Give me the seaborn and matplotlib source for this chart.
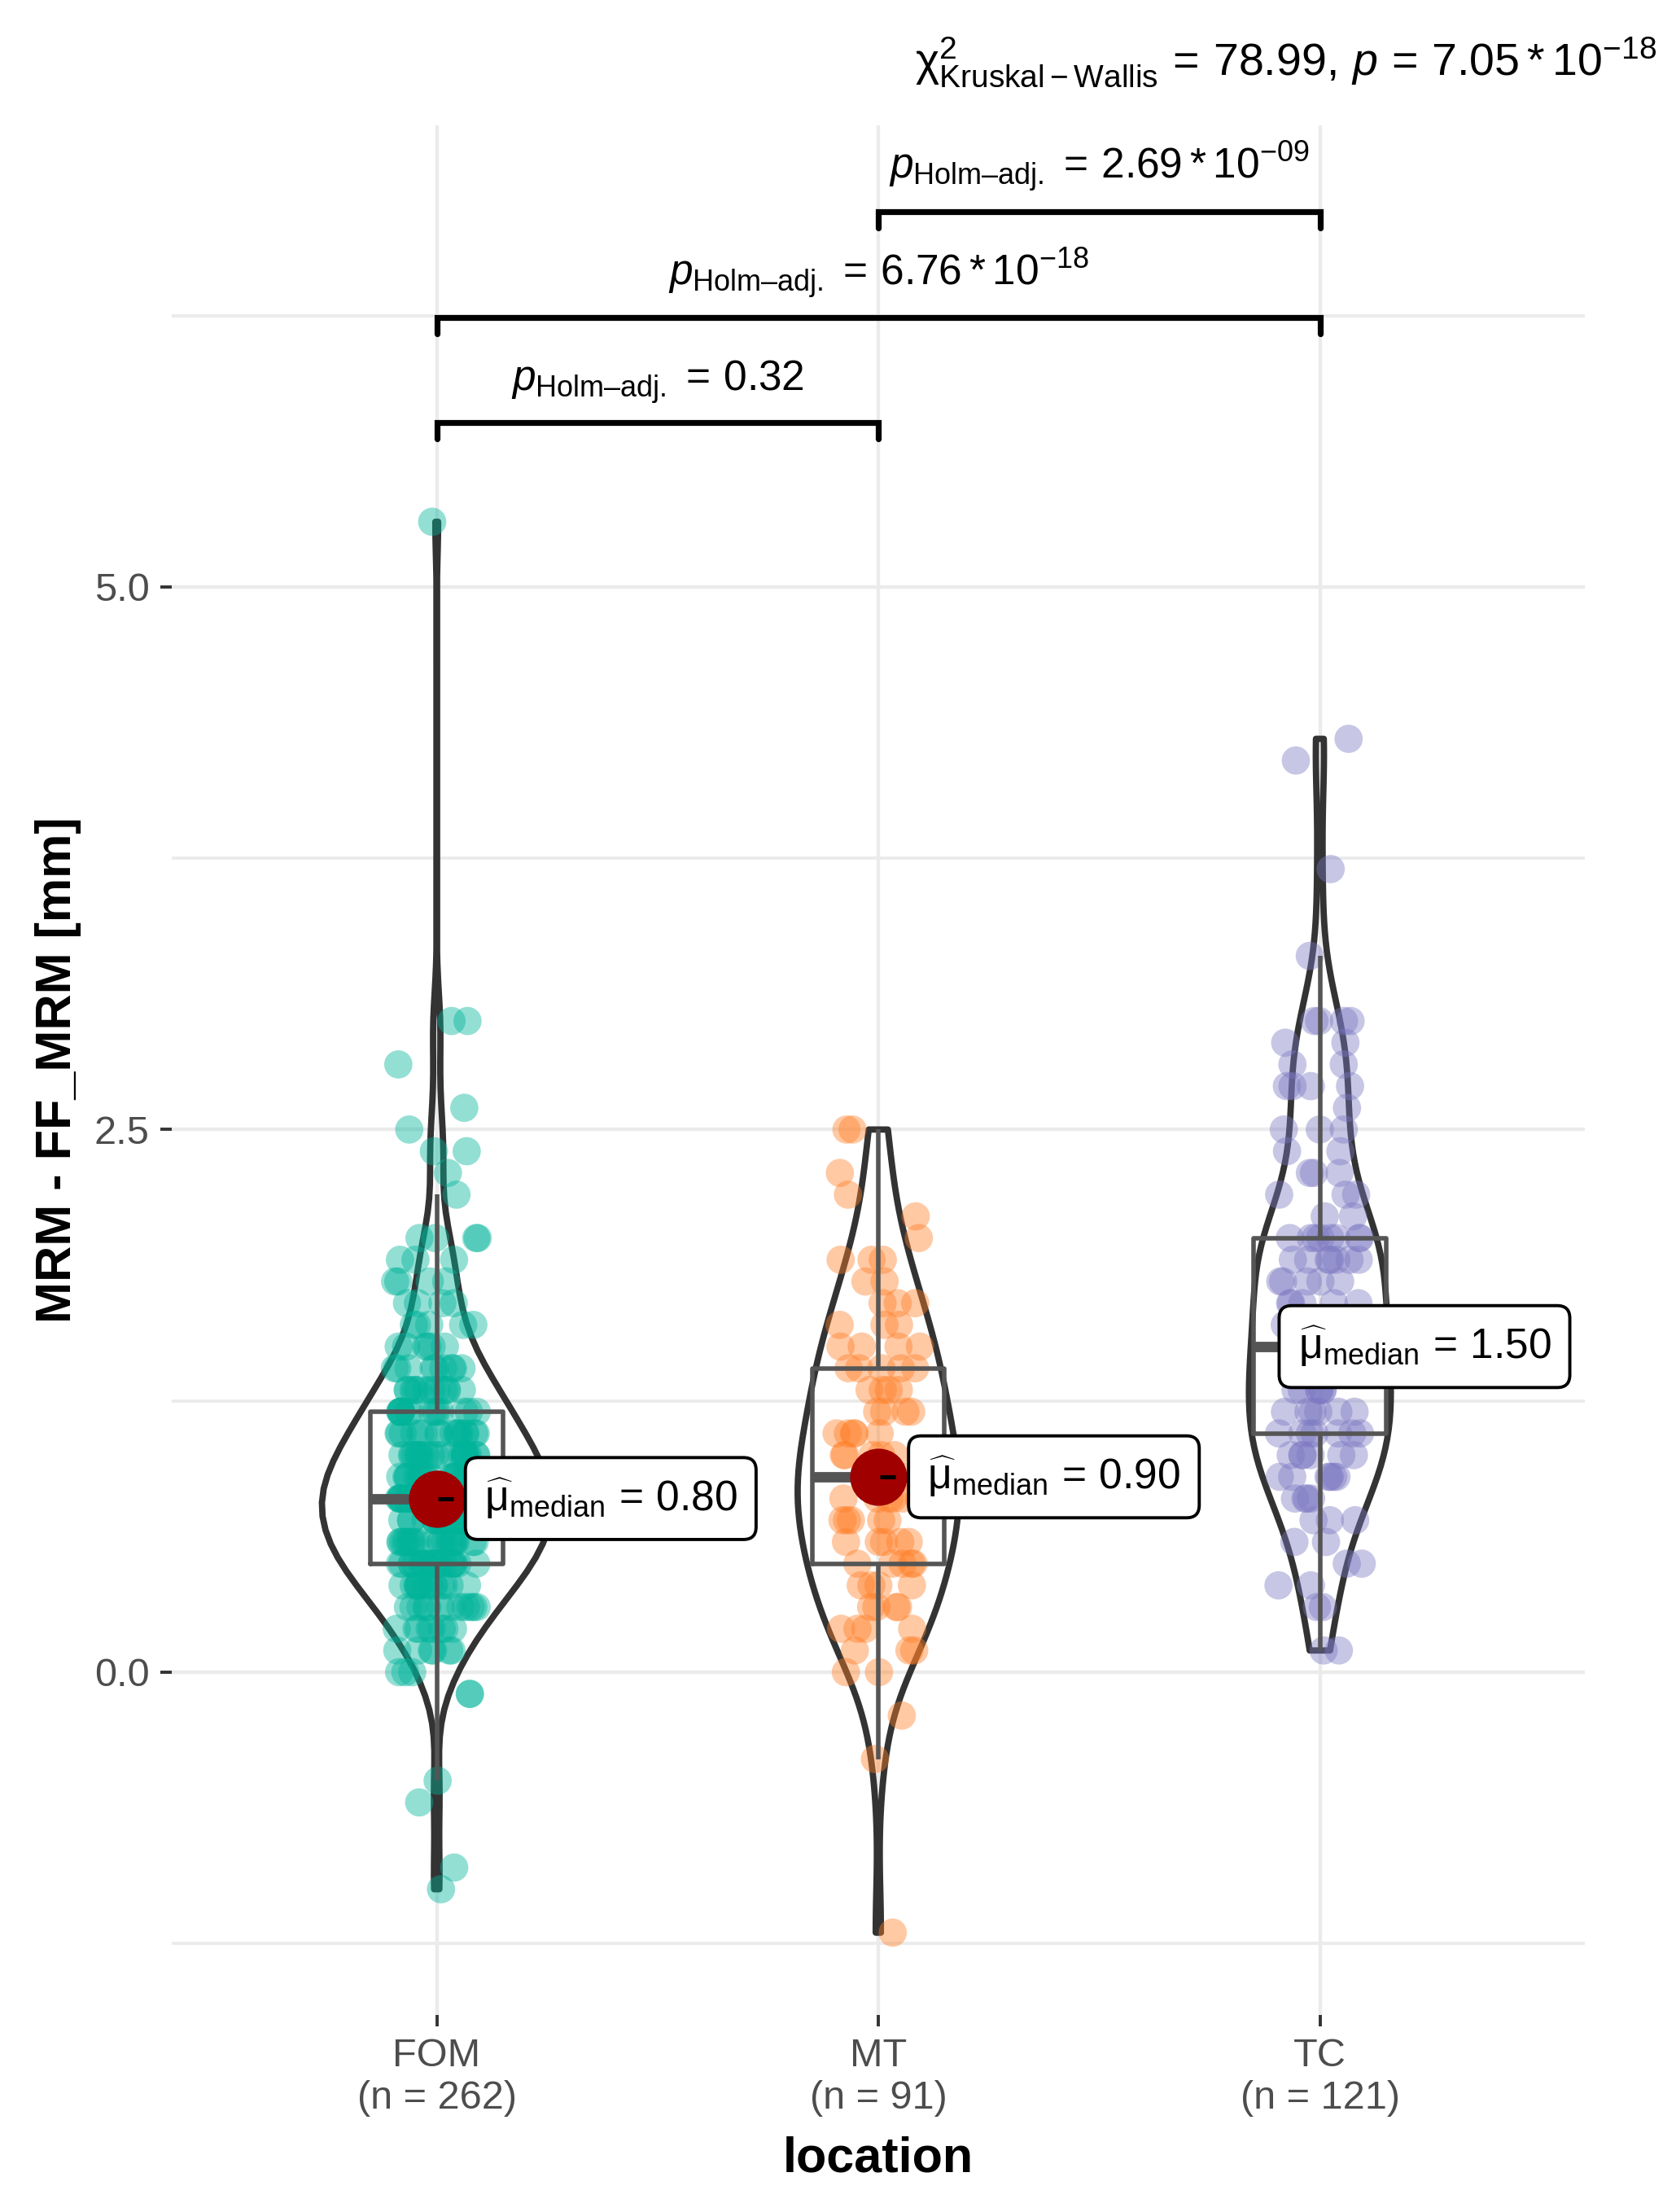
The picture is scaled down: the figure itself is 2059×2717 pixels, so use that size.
import numpy as np
import pandas as pd
import matplotlib
matplotlib.use('Agg')
import matplotlib.pyplot as plt
import seaborn as sns
from matplotlib.ticker import FixedLocator


# Values (0.1 mm steps) and how many points sit at each
locations = ['FOM', 'MT', 'TC']

fom_values = [-1.0, -0.9, -0.6, -0.5, -0.1, 0.0, 0.1, 0.2, 0.3, 0.4, 0.5, 0.6, 0.7, 0.8,
              0.9, 1.0, 1.1, 1.2, 1.3, 1.4, 1.5, 1.6, 1.7, 1.8, 1.9, 2.0, 2.2, 2.3, 2.4,
              2.5, 2.6, 2.8, 3.0, 5.3]
fom_counts = [1, 1, 1, 1, 2, 3, 6, 8, 12, 14, 20, 20, 22, 24,
              20, 20, 16, 14, 12, 9, 6, 5, 4, 4, 3, 4, 1, 1, 2,
              1, 1, 1, 2, 1]

mt_values = [-1.2, -0.4, -0.2, 0.0, 0.1, 0.2, 0.3, 0.4, 0.5, 0.6, 0.7, 0.8, 0.9, 1.0,
             1.1, 1.2, 1.3, 1.4, 1.5, 1.6, 1.7, 1.8, 1.9, 2.0, 2.1, 2.2, 2.3, 2.5]
mt_counts = [1, 1, 1, 2, 3, 4, 4, 4, 5, 5, 5, 6, 6, 5,
             5, 4, 4, 5, 4, 3, 3, 2, 3, 1, 1, 1, 1, 2]

tc_values = [0.1, 0.3, 0.4, 0.5, 0.6, 0.7, 0.8, 0.9, 1.0, 1.1, 1.2, 1.3, 1.4, 1.5,
             1.6, 1.7, 1.8, 1.9, 2.0, 2.1, 2.2, 2.3, 2.4, 2.5, 2.6, 2.7, 2.8, 2.9,
             3.0, 3.3, 3.7, 4.2, 4.3]
tc_counts = [2, 2, 2, 2, 2, 3, 4, 6, 6, 7, 6, 6, 6, 7,
             5, 5, 5, 7, 8, 2, 3, 3, 2, 3, 1, 4, 2, 2,
             4, 1, 1, 1, 1]

# Pairwise comparisons (Holm adjusted) and the Kruskal-Wallis result
pairs = [(0, 1), (0, 2), (1, 2)]
pair_p = ['0.32', '6.76*10^{-18}', '2.69*10^{-09}']
kw_chi2 = '78.99'
kw_p = '7.05*10^{-18}'

palette = {'FOM': '#00B49A', 'MT': '#FF7F27', 'TC': '#7B78C2'}

# Build the long table
frames = []
for name, vals, cnts in [('FOM', fom_values, fom_counts),
                         ('MT', mt_values, mt_counts),
                         ('TC', tc_values, tc_counts)]:
    frames.append(pd.DataFrame({'location': name, 'value': np.repeat(vals, cnts)}))
df = pd.concat(frames, ignore_index=True)


# R's bw.nrd0 rule, given to scipy as a bandwidth factor
def nrd0_factor(kde):
    x = kde.dataset[0]
    sd = np.std(x, ddof=1)
    iqr = np.subtract(*np.percentile(x, [75, 25]))
    bw = 0.9 * min(sd, iqr / 1.34) * len(x) ** -0.2
    return bw / sd


sns.set_theme(style='white')
plt.rcParams['font.family'] = ['Liberation Sans', 'DejaVu Sans']
plt.rcParams['mathtext.fontset'] = 'custom'
plt.rcParams['mathtext.rm'] = 'Liberation Sans'
plt.rcParams['mathtext.it'] = 'Liberation Sans:italic'
plt.rcParams['mathtext.bf'] = 'Liberation Sans:bold'

fig = plt.figure(figsize=(2059 / 200, 2717 / 200), dpi=200)
ax = fig.add_axes([0.1025, 0.0891, 0.8431, 0.8543])

grid_col = '#EBEBEB'
dark = '#333333'

# jittered points
np.random.seed(3)
sns.stripplot(data=df, x='location', y='value', hue='location', order=locations,
              palette=palette, jitter=0.095, size=12.5, alpha=0.42, linewidth=0,
              legend=False, zorder=2, ax=ax)

# boxplot
sns.boxplot(data=df, x='location', y='value', order=locations, fill=False,
            color='#555555', width=0.3, showfliers=False, showcaps=False,
            linewidth=2.0, medianprops={'linewidth': 4.6}, ax=ax)

# violin outline
sns.violinplot(data=df, x='location', y='value', order=locations, fill=False,
               color=dark, inner=None, cut=0, density_norm='area', width=0.52,
               bw_method=nrd0_factor, linewidth=2.8, ax=ax)

# median points and labels
label_offsets = [21.0, 21.7, -9.7]
for i, loc in enumerate(locations):
    med = df.loc[df['location'] == loc, 'value'].median()
    ax.plot([i + 0.066, i + 0.081], [med, med], color='black', lw=1.6, zorder=5,
            solid_capstyle='butt')
    ax.scatter([i], [med], s=640, color='#A00000', zorder=6, linewidths=0)
    ax.plot([i + 0.003, i + 0.038], [med, med], color='black', lw=1.8, zorder=7,
            solid_capstyle='butt')
    ax.annotate(r'$\widehat{\mathrm{μ}}_{\mathrm{median}}\,=\,%.2f$' % med, xy=(i, med),
                xytext=(label_offsets[i], 0), textcoords='offset points',
                ha='left', va='center', fontsize=18.5, color='black', zorder=8,
                bbox=dict(boxstyle='round,pad=0.45,rounding_size=0.3',
                          fc='white', ec='black', lw=1.4))

# pairwise brackets
bracket_y = [5.758, 6.242, 6.729]
label_y = [5.904, 6.39, 6.88]
for (a, b), p, by, ly in zip(pairs, pair_p, bracket_y, label_y):
    ax.plot([a, a, b, b], [by - 0.075, by, by, by - 0.075], color='black', lw=2.6,
            zorder=4, solid_joinstyle='miter')
    ax.text((a + b) / 2, ly, r'$\mathit{p}_{\mathrm{Holm–adj.}}\,=\,%s$' % p,
            ha='center', va='baseline', fontsize=18.5, color='black')

# Kruskal-Wallis title
fig.text(0.9883, 0.9661,
         r'$\mathrm{χ}^{2}_{\mathrm{Kruskal-Wallis}}\,=\,%s,\,\mathit{p}\,=\,%s$' % (kw_chi2, kw_p),
         ha='right', va='baseline', fontsize=20, color='black')

# axes styling
ax.set_xlim(-0.6, 2.6)
ax.set_ylim(-1.579, 7.127)
ax.yaxis.set_major_locator(FixedLocator([0.0, 2.5, 5.0]))
ax.yaxis.set_minor_locator(FixedLocator([-1.25, 1.25, 3.75, 6.25]))
ax.set_yticklabels(['0.0', '2.5', '5.0'])
n_counts = df['location'].value_counts()
ax.set_xticks(range(len(locations)))
ax.set_xticklabels([f'{loc}\n(n = {n_counts[loc]})' for loc in locations],
                   linespacing=1.2)
ax.grid(False)
ax.yaxis.grid(True, which='major', color=grid_col, lw=1.6)
ax.yaxis.grid(True, which='minor', color=grid_col, lw=1.4)
ax.xaxis.grid(True, which='major', color=grid_col, lw=1.6)
ax.set_axisbelow(True)
for s in ax.spines.values():
    s.set_visible(False)
ax.tick_params(axis='both', which='major', length=5, width=1.4, color=dark,
               labelsize=17.5, labelcolor='#4D4D4D', pad=5, direction='out',
               left=True, bottom=True)
ax.tick_params(axis='y', which='minor', length=0)

ax.set_xlabel('location', fontsize=22, fontweight='bold', color='black')
ax.set_ylabel('MRM - FF_MRM [mm]', fontsize=22, fontweight='bold', color='black')
ax.xaxis.set_label_coords(0.5, -0.064)
ax.yaxis.set_label_coords(-0.064, 0.5)

fig.savefig('out.png', dpi=200)
